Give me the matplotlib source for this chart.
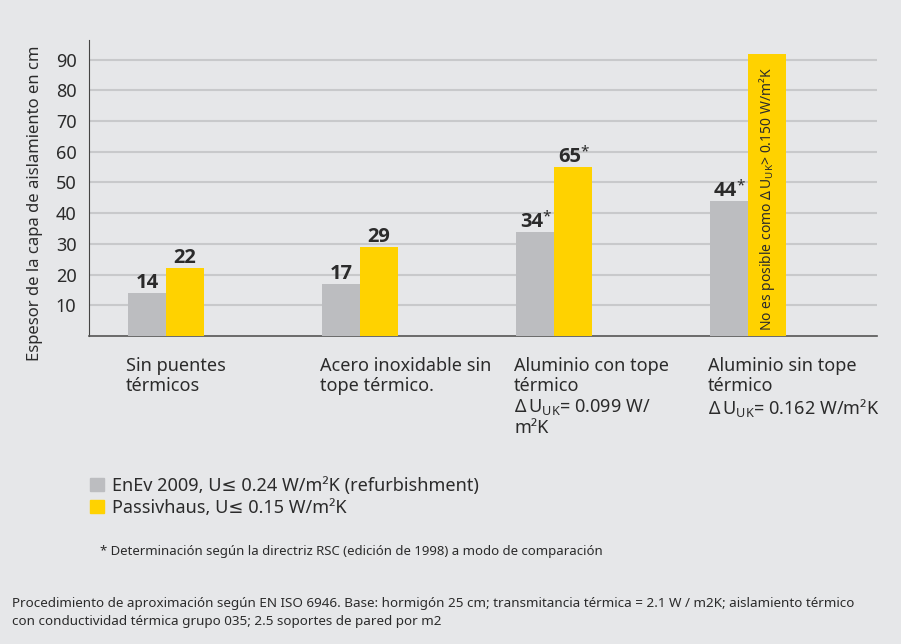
import matplotlib
matplotlib.use('Agg')
import matplotlib.pyplot as plt
from matplotlib.patches import Patch

# data
categories = [
    'Sin puentes\ntérmicos',
    'Acero inoxidable sin\ntope térmico.',
    'Aluminio con tope\ntérmico\nΔ\u2009U$_\\mathregular{UK}$= 0.099 W/\nm²K',
    'Aluminio sin tope\ntérmico\nΔ\u2009U$_\\mathregular{UK}$= 0.162 W/m²K',
]
enev_values = [14, 17, 34, 44]
enev_labels = ['14', '17', '34', '44']
enev_star = [False, False, True, True]
passiv_values = [22, 29, 55, 92]        # bar heights as drawn
passiv_labels = ['22', '29', '65', '']
passiv_star = [False, False, True, False]
yticks = [10, 20, 30, 40, 50, 60, 70, 80, 90]

legend_labels = ['EnEv 2009, U≤ 0.24 W/m²K (refurbishment)',
                 'Passivhaus, U≤ 0.15 W/m²K']
bar_note = 'No es posible como Δ\u2009U$_\\mathregular{UK}$> 0.150 W/m²K'
footnote = '* Determinación según la directriz RSC (edición de 1998) a modo de comparación'
source = ('Procedimiento de aproximación según EN ISO 6946. Base: hormigón 25 cm; '
          'transmitancia térmica = 2.1 W / m2K; aislamiento térmico\n'
          'con conductividad térmica grupo 035; 2.5 soportes de pared por m2')

bg = '#e6e7e9'
gray = '#bcbdc0'
yellow = '#ffd200'
txt = '#2b2b2b'

plt.rcParams['font.family'] = ['Noto Sans', 'DejaVu Sans']
plt.rcParams['mathtext.fontset'] = 'custom'
plt.rcParams['mathtext.rm'] = 'Noto Sans'
plt.rcParams['text.color'] = txt

fig = plt.figure(figsize=(9.01, 6.44), dpi=100, facecolor=bg)
ax = fig.add_axes([89/901, 1-336/644, (877-89)/901, 296/644])
ax.set_facecolor(bg)

w = 0.196
x = list(range(len(categories)))
ax.bar([i - w/2 for i in x], enev_values, width=w, color=gray, zorder=3)
ax.bar([i + w/2 for i in x], passiv_values, width=w, color=yellow, zorder=3)

bold = ['Open Sans', 'DejaVu Sans']


def value_label(xc, h, label, star):
    # digits shift a bit left when an asterisk follows, so the pair stays centred
    ax.annotate(label, xy=(xc, h), xytext=(-2.5 if star else 0, 0),
                textcoords='offset points', ha='center', va='bottom',
                fontsize=14.5, fontweight='bold', family=bold, color=txt)
    if star:
        ax.annotate('*', xy=(xc, h), xytext=(5.3, 5.5),
                    textcoords='offset points', ha='left', va='bottom',
                    fontsize=11, color=txt)


for i in x:
    value_label(i - w/2, enev_values[i], enev_labels[i], enev_star[i])
    if passiv_labels[i]:
        value_label(i + w/2, passiv_values[i], passiv_labels[i], passiv_star[i])

ax.text(3 + w/2, 44.5, bar_note, rotation=90, ha='center', va='center',
        fontsize=10, color=txt, zorder=4)

for i, c in enumerate(categories):
    ax.text(i - w - 0.01, -0.07, c, transform=ax.get_xaxis_transform(),
            ha='left', va='top', fontsize=13, linespacing=1.15, color=txt)

ax.set_xlim(-0.397, 3.665)
ax.set_ylim(0, 96.4)
ax.set_yticks(yticks)
ax.set_xticks([])
ax.tick_params(axis='y', length=0, pad=9, labelsize=13, labelcolor=txt)
ax.yaxis.grid(True, color='#c8c9cb', linewidth=1.5, zorder=0)
for side in ['top', 'right']:
    ax.spines[side].set_visible(False)
ax.spines['left'].set_color('#444444')
ax.spines['bottom'].set_color('#555555')
ax.spines['bottom'].set_linewidth(1.2)

fig.text(35/901, 1-203/644, 'Espesor de la capa de aislamiento en cm',
         rotation=90, ha='center', va='center', fontsize=12, color=txt)

handles = [Patch(color=gray), Patch(color=yellow)]
fig.legend(handles, legend_labels, loc='upper left',
           bbox_to_anchor=(90/901, 1-477/644), frameon=False, fontsize=13,
           handlelength=0.75, handleheight=0.75, handletextpad=0.45,
           labelspacing=0.2, borderpad=0, borderaxespad=0)

fig.text(100/901, 1-555/644, footnote, ha='left', va='baseline', fontsize=9.5)
fig.text(12/901, 1-597/644, source, ha='left', va='top', fontsize=9.7,
         linespacing=1.45)

fig.savefig('out.png', dpi=100, facecolor=bg)
